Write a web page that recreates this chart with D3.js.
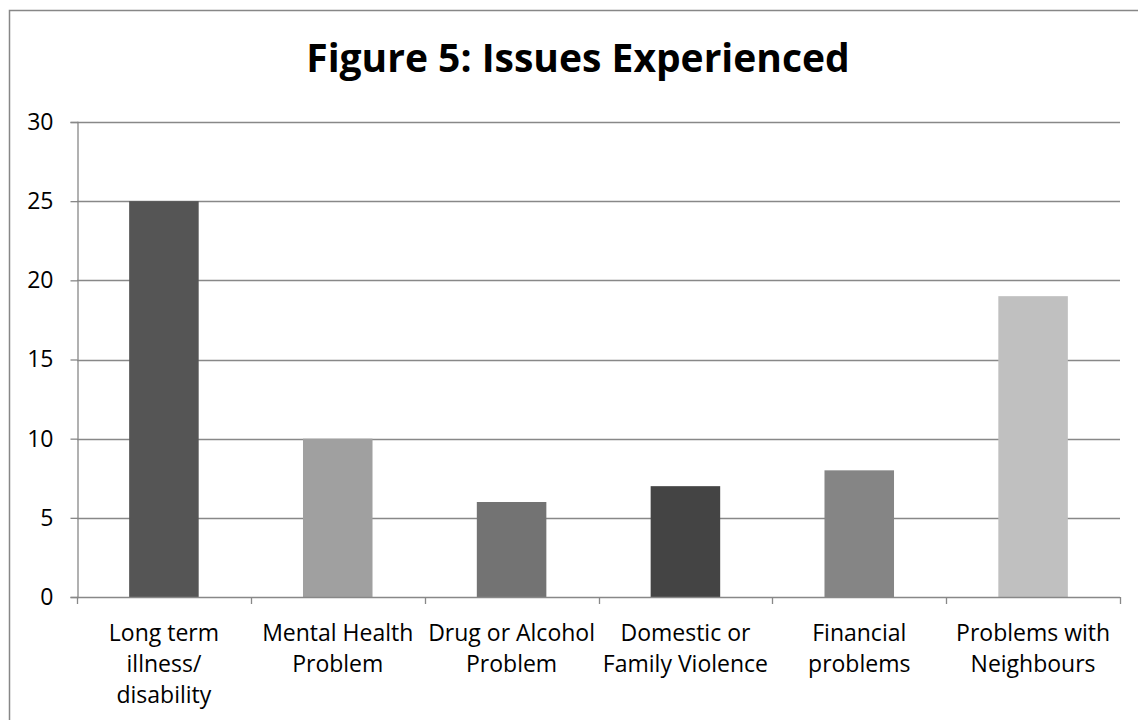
<!DOCTYPE html>
<html>
<head>
<meta charset="utf-8">
<script src="https://cdn.jsdelivr.net/npm/d3@7"></script>
<style>
  html, body { margin: 0; padding: 0; background: #fff; }
  svg { display: block; }
  text { font-family: "Open Sans", Lato, sans-serif; fill: #000; }
</style>
</head>
<body>
<svg id="chart" width="1138" height="720"></svg>
<script>
// Chart content
const title = "Figure 5: Issues Experienced";
const categories = [
  "Long term\nillness/\ndisability",
  "Mental Health\nProblem",
  "Drug or Alcohol\nProblem",
  "Domestic or\nFamily Violence",
  "Financial\nproblems",
  "Problems with\nNeighbours"
];
const values = [25, 10, 6, 7, 8, 19];
const barColors = ["#555555", "#a0a0a0", "#737373", "#444444", "#858585", "#c0c0c0"];
const yTicks = [0, 5, 10, 15, 20, 25, 30];

const svg = d3.select("#chart");
const W = 1138, H = 720;
const plot = { left: 77, right: 1120, top: 122, bottom: 597 };
const font = "'Open Sans', Lato, sans-serif";

// Outer chart frame (extends past the right and bottom edges)
svg.append("path")
  .attr("d", `M9.5,${H + 5} L9.5,10.5 L${W + 5},10.5`)
  .attr("fill", "none")
  .attr("stroke", "#878787")
  .attr("stroke-width", 1.5);

// Title
svg.append("text")
  .attr("x", 578)
  .attr("y", 72)
  .attr("text-anchor", "middle")
  .attr("font-size", 39)
  .attr("font-weight", "bold")
  .text(title);

const x = d3.scaleBand()
  .domain(categories)
  .range([plot.left, plot.right])
  .paddingInner(0.6)
  .paddingOuter(0.3);

const y = d3.scaleLinear()
  .domain([0, 30])
  .range([plot.bottom, plot.top]);

// Horizontal gridlines
svg.append("g")
  .selectAll("line")
  .data(yTicks.filter(d => d > 0))
  .join("line")
  .attr("x1", plot.left)
  .attr("x2", plot.right)
  .attr("y1", d => Math.round(y(d)) + 0.5)
  .attr("y2", d => Math.round(y(d)) + 0.5)
  .attr("stroke", "#888888")
  .attr("stroke-width", 1.3);

// Bars
svg.append("g")
  .selectAll("rect")
  .data(values)
  .join("rect")
  .attr("x", (d, i) => x(categories[i]))
  .attr("width", x.bandwidth())
  .attr("y", d => y(d))
  .attr("height", d => y(0) - y(d))
  .attr("fill", (d, i) => barColors[i]);

// Y axis
const yAxis = svg.append("g")
  .attr("transform", `translate(${plot.left + 0.5},0)`)
  .call(d3.axisLeft(y).tickValues(yTicks).tickSize(7).tickPadding(17));
yAxis.select(".domain").attr("stroke", "#888888").attr("stroke-width", 1.3);
yAxis.selectAll(".tick line").attr("stroke", "#888888").attr("stroke-width", 1.3);
yAxis.selectAll(".tick text")
  .attr("font-family", font)
  .attr("font-size", 23)
  .attr("fill", "#000");

// X axis: ticks at band boundaries, labels centred under bars
const bounds = d3.range(categories.length + 1).map(i => plot.left + i * (plot.right - plot.left) / categories.length);
const xg = svg.append("g");
xg.append("line")
  .attr("x1", plot.left).attr("x2", plot.right)
  .attr("y1", plot.bottom + 0.5).attr("y2", plot.bottom + 0.5)
  .attr("stroke", "#888888").attr("stroke-width", 1.3);
xg.selectAll("line.tick")
  .data(bounds)
  .join("line")
  .attr("class", "tick")
  .attr("x1", d => Math.round(d) + 0.5).attr("x2", d => Math.round(d) + 0.5)
  .attr("y1", plot.bottom).attr("y2", plot.bottom + 7)
  .attr("stroke", "#888888").attr("stroke-width", 1.3);

const labels = xg.selectAll("text.cat")
  .data(categories)
  .join("text")
  .attr("class", "cat")
  .attr("text-anchor", "middle")
  .attr("font-size", 23)
  .attr("x", d => x(d) + x.bandwidth() / 2)
  .attr("y", 641);
labels.each(function(d) {
  const t = d3.select(this);
  d.split("\n").forEach((line, i) => {
    t.append("tspan")
      .attr("x", t.attr("x"))
      .attr("dy", i === 0 ? 0 : 31)
      .text(line);
  });
});
</script>
</body>
</html>
